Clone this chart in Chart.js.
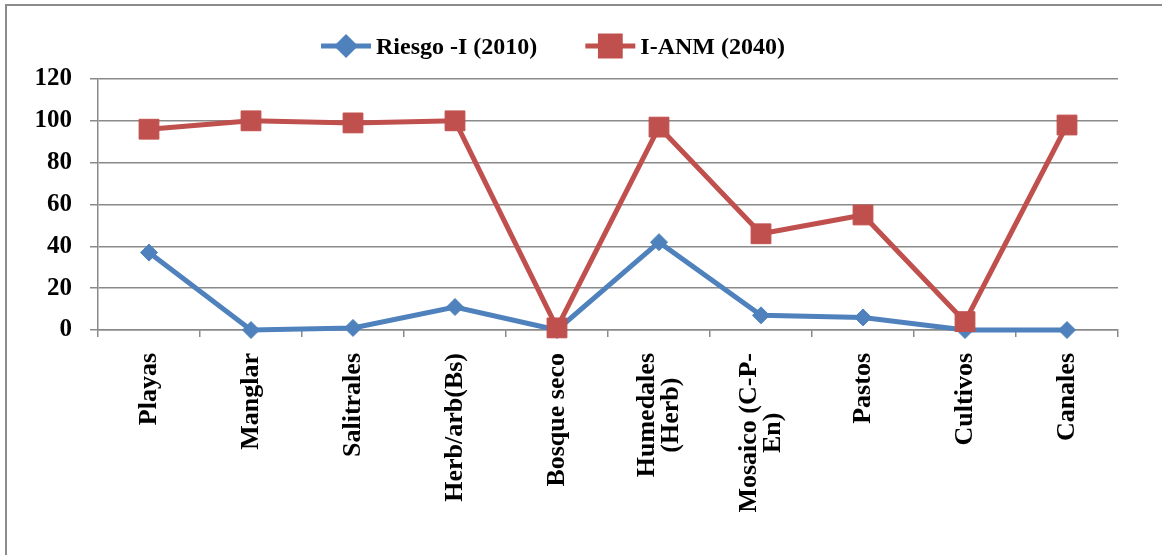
<!DOCTYPE html>
<html>
<head>
<meta charset="utf-8">
<script src="https://cdn.jsdelivr.net/npm/chart.js@4/dist/chart.umd.min.js"></script>
<style>
  html, body { margin: 0; padding: 0; background: #fff; overflow: hidden; }
  #wrap { position: relative; width: 1162px; height: 555px; }
  #frame { position: absolute; left: 5px; top: 4px; width: 2000px; height: 2000px;
           border: 2px solid #8c8c8c; box-sizing: border-box; }
  canvas { position: absolute; left: 0; top: 0; }
</style>
</head>
<body>
<div id="wrap">
  <div id="frame"></div>
  <canvas id="c" width="1162" height="555"></canvas>
</div>
<script>
// Land-cover categories (multi-line names split into lines)
const categories = [
  'Playas', 'Manglar', 'Salitrales', 'Herb/arb(Bs)', 'Bosque seco',
  ['Humedales', '(Herb)'], ['Mosaico (C-P-', 'En)'], 'Pastos', 'Cultivos', 'Canales'
];

const seriesNames = ['Riesgo -I (2010)', 'I-ANM (2040)'];
const riesgo2010 = [37, 0, 1, 11, 0, 42, 7, 6, 0, 0];
const ianm2040  = [96, 100, 99, 100, 1, 97, 46, 55, 4, 98];

const yTicks = [0, 20, 40, 60, 80, 100, 120];

const BLUE = '#4F81BD';
const RED = '#C0504D';
const GRID = '#8a8a8a';
const FONT = '"Liberation Serif", "Times New Roman", serif';

// Legend: line segment with its marker, followed by the series name
const lineLegend = {
  id: 'lineLegend',
  afterDraw(chart) {
    const ctx = chart.ctx;
    ctx.save();
    ctx.font = 'bold 24px ' + FONT;
    ctx.textBaseline = 'alphabetic';
    const seg = 50, gapText = 5, gapItem = 48;
    const items = chart.data.datasets.map(ds => ({ ds, w: ctx.measureText(ds.label).width }));
    const total = items.reduce((s, it) => s + seg + gapText + it.w, 0) + gapItem * (items.length - 1);
    let x = 553 - total / 2;
    const y = 46;
    items.forEach(({ ds, w }) => {
      ctx.strokeStyle = ds.borderColor;
      ctx.lineWidth = ds.borderWidth;
      ctx.beginPath();
      ctx.moveTo(x, y);
      ctx.lineTo(x + seg, y);
      ctx.stroke();
      Chart.helpers.drawPoint(ctx, {
        pointStyle: ds.pointStyle, radius: ds.pointRadius, borderWidth: 1
      }, x + seg / 2, y);
      ctx.fillStyle = ds.pointBackgroundColor;
      ctx.strokeStyle = ds.pointBorderColor;
      ctx.fill();
      ctx.fillStyle = '#000';
      ctx.textAlign = 'left';
      ctx.fillText(ds.label, x + seg + gapText, y + 8);
      x += seg + gapText + w + gapItem;
    });
    ctx.restore();
  }
};

// Category names rotated 90°, lines centred on each other, block ending near the axis
const rotatedLabels = {
  id: 'rotatedLabels',
  afterDraw(chart) {
    const xs = chart.scales.x;
    const ctx = chart.ctx;
    ctx.save();
    ctx.font = 'bold 26px ' + FONT;
    ctx.fillStyle = '#000';
    ctx.textAlign = 'center';
    ctx.textBaseline = 'middle';
    const lh = 24;
    chart.data.labels.forEach((lab, i) => {
      const lines = Array.isArray(lab) ? lab : [lab];
      const maxW = Math.max(...lines.map(l => ctx.measureText(l).width));
      const px = xs.getPixelForValue(i);
      const cy = xs.top + 23 + maxW / 2;
      ctx.save();
      ctx.translate(px, cy);
      ctx.rotate(-Math.PI / 2);
      lines.forEach((l, j) => {
        ctx.fillText(l, 0, (j - (lines.length - 1) / 2) * lh);
      });
      ctx.restore();
    });
    ctx.restore();
  }
};

new Chart(document.getElementById('c'), {
  type: 'line',
  data: {
    labels: categories,
    datasets: [
      {
        label: seriesNames[0],
        data: riesgo2010,
        borderColor: BLUE,
        backgroundColor: BLUE,
        borderWidth: 5,
        pointStyle: 'rectRot',
        pointRadius: 8.5,
        pointHoverRadius: 8.5,
        pointBackgroundColor: BLUE,
        pointBorderColor: BLUE,
        pointBorderWidth: 1,
        tension: 0,
        clip: false,
        order: 1
      },
      {
        label: seriesNames[1],
        data: ianm2040,
        borderColor: RED,
        backgroundColor: RED,
        borderWidth: 5,
        pointStyle: 'rect',
        pointRadius: 14,
        pointHoverRadius: 14,
        pointBackgroundColor: RED,
        pointBorderColor: RED,
        pointBorderWidth: 1,
        tension: 0,
        clip: false,
        order: 0
      }
    ]
  },
  options: {
    responsive: false,
    animation: false,
    events: [],
    layout: { padding: { top: 79, right: 44, left: 0, bottom: 0 } },
    plugins: {
      legend: { display: false },
      tooltip: { enabled: false },
      title: { display: false }
    },
    scales: {
      x: {
        type: 'category',
        offset: true,
        grid: {
          display: true,
          drawOnChartArea: false,
          drawTicks: true,
          tickLength: 7,
          offset: true,
          color: GRID,
          lineWidth: 1.5
        },
        border: { display: true, color: GRID, width: 1.5 },
        ticks: { display: false, autoSkip: false },
        afterFit(scale) { scale.height = 225; }
      },
      y: {
        min: 0,
        max: 120,
        afterBuildTicks(scale) { scale.ticks = yTicks.map(v => ({ value: v })); },
        grid: {
          color: GRID,
          lineWidth: 1.5,
          drawTicks: true,
          tickLength: 8
        },
        border: { display: true, color: GRID, width: 1.5 },
        ticks: {
          color: '#000',
          padding: 18,
          font: { family: FONT, size: 25, weight: 'bold' }
        },
        afterFit(scale) { scale.width = 98; }
      }
    }
  },
  plugins: [lineLegend, rotatedLabels]
});
</script>
</body>
</html>
